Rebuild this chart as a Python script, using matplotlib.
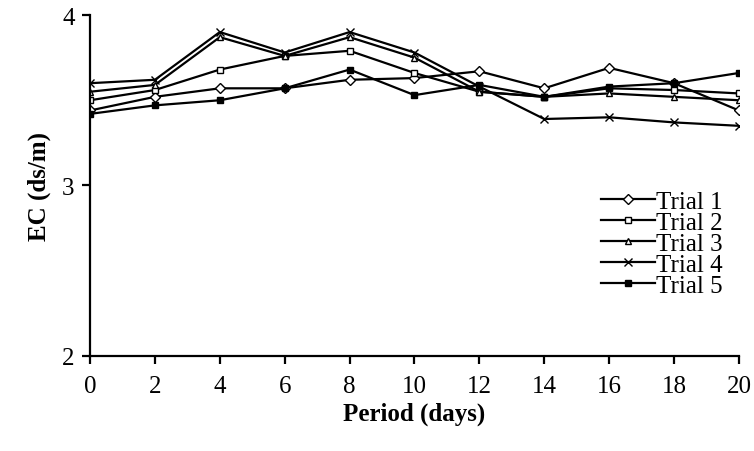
import matplotlib
matplotlib.use('Agg')
import matplotlib.pyplot as plt

# EC readings per trial over the storage period
days = [0, 2, 4, 6, 8, 10, 12, 14, 16, 18, 20]
trial_1 = [3.44, 3.52, 3.57, 3.57, 3.62, 3.63, 3.67, 3.57, 3.69, 3.60, 3.44]
trial_2 = [3.50, 3.56, 3.68, 3.76, 3.79, 3.66, 3.55, 3.52, 3.57, 3.56, 3.54]
trial_3 = [3.55, 3.59, 3.87, 3.76, 3.87, 3.75, 3.55, 3.52, 3.54, 3.52, 3.50]
trial_4 = [3.60, 3.62, 3.90, 3.78, 3.90, 3.78, 3.58, 3.39, 3.40, 3.37, 3.35]
trial_5 = [3.42, 3.47, 3.50, 3.57, 3.68, 3.53, 3.59, 3.52, 3.58, 3.60, 3.66]

series = [trial_1, trial_2, trial_3, trial_4, trial_5]
labels = ['Trial 1', 'Trial 2', 'Trial 3', 'Trial 4', 'Trial 5']
markers = ['D', 's', '^', 'x', 's']
faces = ['white', 'white', 'white', 'black', 'black']
msizes = [5, 4.5, 4.5, 6, 4.5]

plt.rcParams['font.family'] = 'Liberation Serif'

fig = plt.figure(figsize=(7.54, 4.52), dpi=100)
ax = fig.add_axes([0.1194, 0.2102, 0.8606, 0.7544])

for vals, lab, m, fc, ms in zip(series, labels, markers, faces, msizes):
    ax.plot(days, vals, color='black', linewidth=1.6, marker=m, markersize=ms,
            markerfacecolor=fc, markeredgecolor='black', markeredgewidth=1.0,
            label=lab)

ax.set_xlim(0, 20)
ax.set_ylim(2, 4)
ax.set_xticks(days)
ax.set_yticks([2, 3, 4])

for s in ['top', 'right']:
    ax.spines[s].set_visible(False)
for s in ['left', 'bottom']:
    ax.spines[s].set_linewidth(1.6)

ax.tick_params(direction='out', length=6, width=1.6, labelsize=18, pad=5)
ax.tick_params(axis='x', pad=8)

ax.set_xlabel('Period (days)', fontsize=18, fontweight='bold', labelpad=3)
ax.set_ylabel('EC (ds/m)', fontsize=18, fontweight='bold', labelpad=8)

ax.legend(loc='upper left', bbox_to_anchor=(0.772, 0.515), frameon=False,
          fontsize=18, handlelength=2.15, handletextpad=0.05,
          labelspacing=-0.06, borderaxespad=0)

fig.savefig('out.png', dpi=100)
